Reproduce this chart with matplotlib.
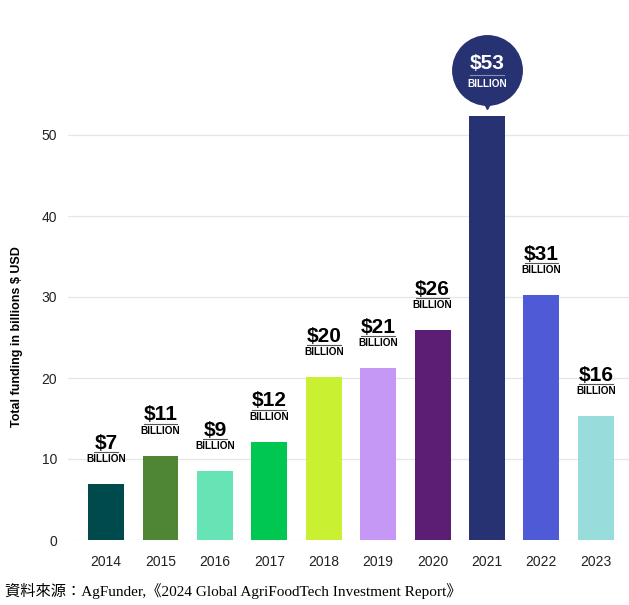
import matplotlib.pyplot as plt
from matplotlib.transforms import offset_copy

years = ["2014", "2015", "2016", "2017", "2018", "2019", "2020", "2021", "2022", "2023"]
funding = [6.9, 10.4, 8.5, 12.1, 20.1, 21.2, 25.9, 52.3, 30.2, 15.3]
labels = ["$7", "$11", "$9", "$12", "$20", "$21", "$26", "$53", "$31", "$16"]
colors = ["#004a4c", "#4f8634", "#66e4b6", "#00c752", "#c9f132",
          "#c498f4", "#5c1e74", "#263271", "#4f5bd6", "#98dcdb"]
highlight = "2021"

plt.rcParams['font.family'] = ['Liberation Sans', 'DejaVu Sans']

fig = plt.figure(figsize=(6.29, 6.05), dpi=100)
ax = fig.add_axes([68 / 629, 65 / 605, 561 / 629, 540 / 605])

x = list(range(len(years)))
ax.bar(x, funding, width=0.66, color=colors, zorder=2)

ax.set_xlim(-0.70, 9.61)
ax.set_ylim(0, 540 / 8.1)
ax.set_yticks([0, 10, 20, 30, 40, 50])
ax.set_xticks(x)
ax.set_xticklabels(years)
ax.grid(axis='y', color='#e6e6e6', linewidth=0.9, zorder=0)
ax.tick_params(axis='both', length=0, labelsize=10, colors='#222222')
ax.tick_params(axis='x', pad=11)
ax.tick_params(axis='y', pad=8)
for s in ax.spines.values():
    s.set_visible(False)

ax.set_ylabel("Total funding in billions $ USD", fontsize=9, fontweight='bold')
ax.yaxis.set_label_coords(-0.080, 0.376)

def shifted(dy):
    return offset_copy(ax.transData, fig=fig, x=0, y=dy, units='dots')

for i, (yr, v, lab) in enumerate(zip(years, funding, labels)):
    half = 0.22 if len(lab) == 2 else 0.31
    if yr == highlight:
        ax.plot(i, v, marker='o', markersize=50, color=colors[i],
                transform=shifted(46), clip_on=False, zorder=5)
        ax.plot(i, v, marker='v', markersize=5, color=colors[i],
                transform=shifted(10), clip_on=False, zorder=5)
        tc = 'white'
        base = 46
        ax.text(i, v, lab, transform=shifted(base + 7), ha='center', va='center',
                fontsize=15, fontweight='bold', color=tc, zorder=6)
        ax.plot([i - half, i + half], [v, v], transform=shifted(base - 5),
                color='#8a8fb8', linewidth=0.8, zorder=6, clip_on=False)
        ax.text(i, v, "BILLION", transform=shifted(base - 14), ha='center',
                va='center', fontsize=7.2, fontweight='bold', color=tc, zorder=6)
    else:
        ax.text(i, v, lab, transform=shifted(41), ha='center', va='center',
                fontsize=15, fontweight='bold', color='black', zorder=6)
        ax.plot([i - half, i + half], [v, v], transform=shifted(32),
                color='#555555', linewidth=0.8, zorder=6)
        ax.text(i, v, "BILLION", transform=shifted(25), ha='center',
                va='center', fontsize=7.2, fontweight='bold', color='black', zorder=6)

fig.text(5 / 629, 1 - 591 / 605,
         "資料來源：AgFunder,《2024 Global AgriFoodTech Investment Report》",
         fontsize=11, va='center', ha='left',
         family=['Liberation Serif', 'Noto Sans CJK TC'])

fig.savefig("out.png", dpi=100)
